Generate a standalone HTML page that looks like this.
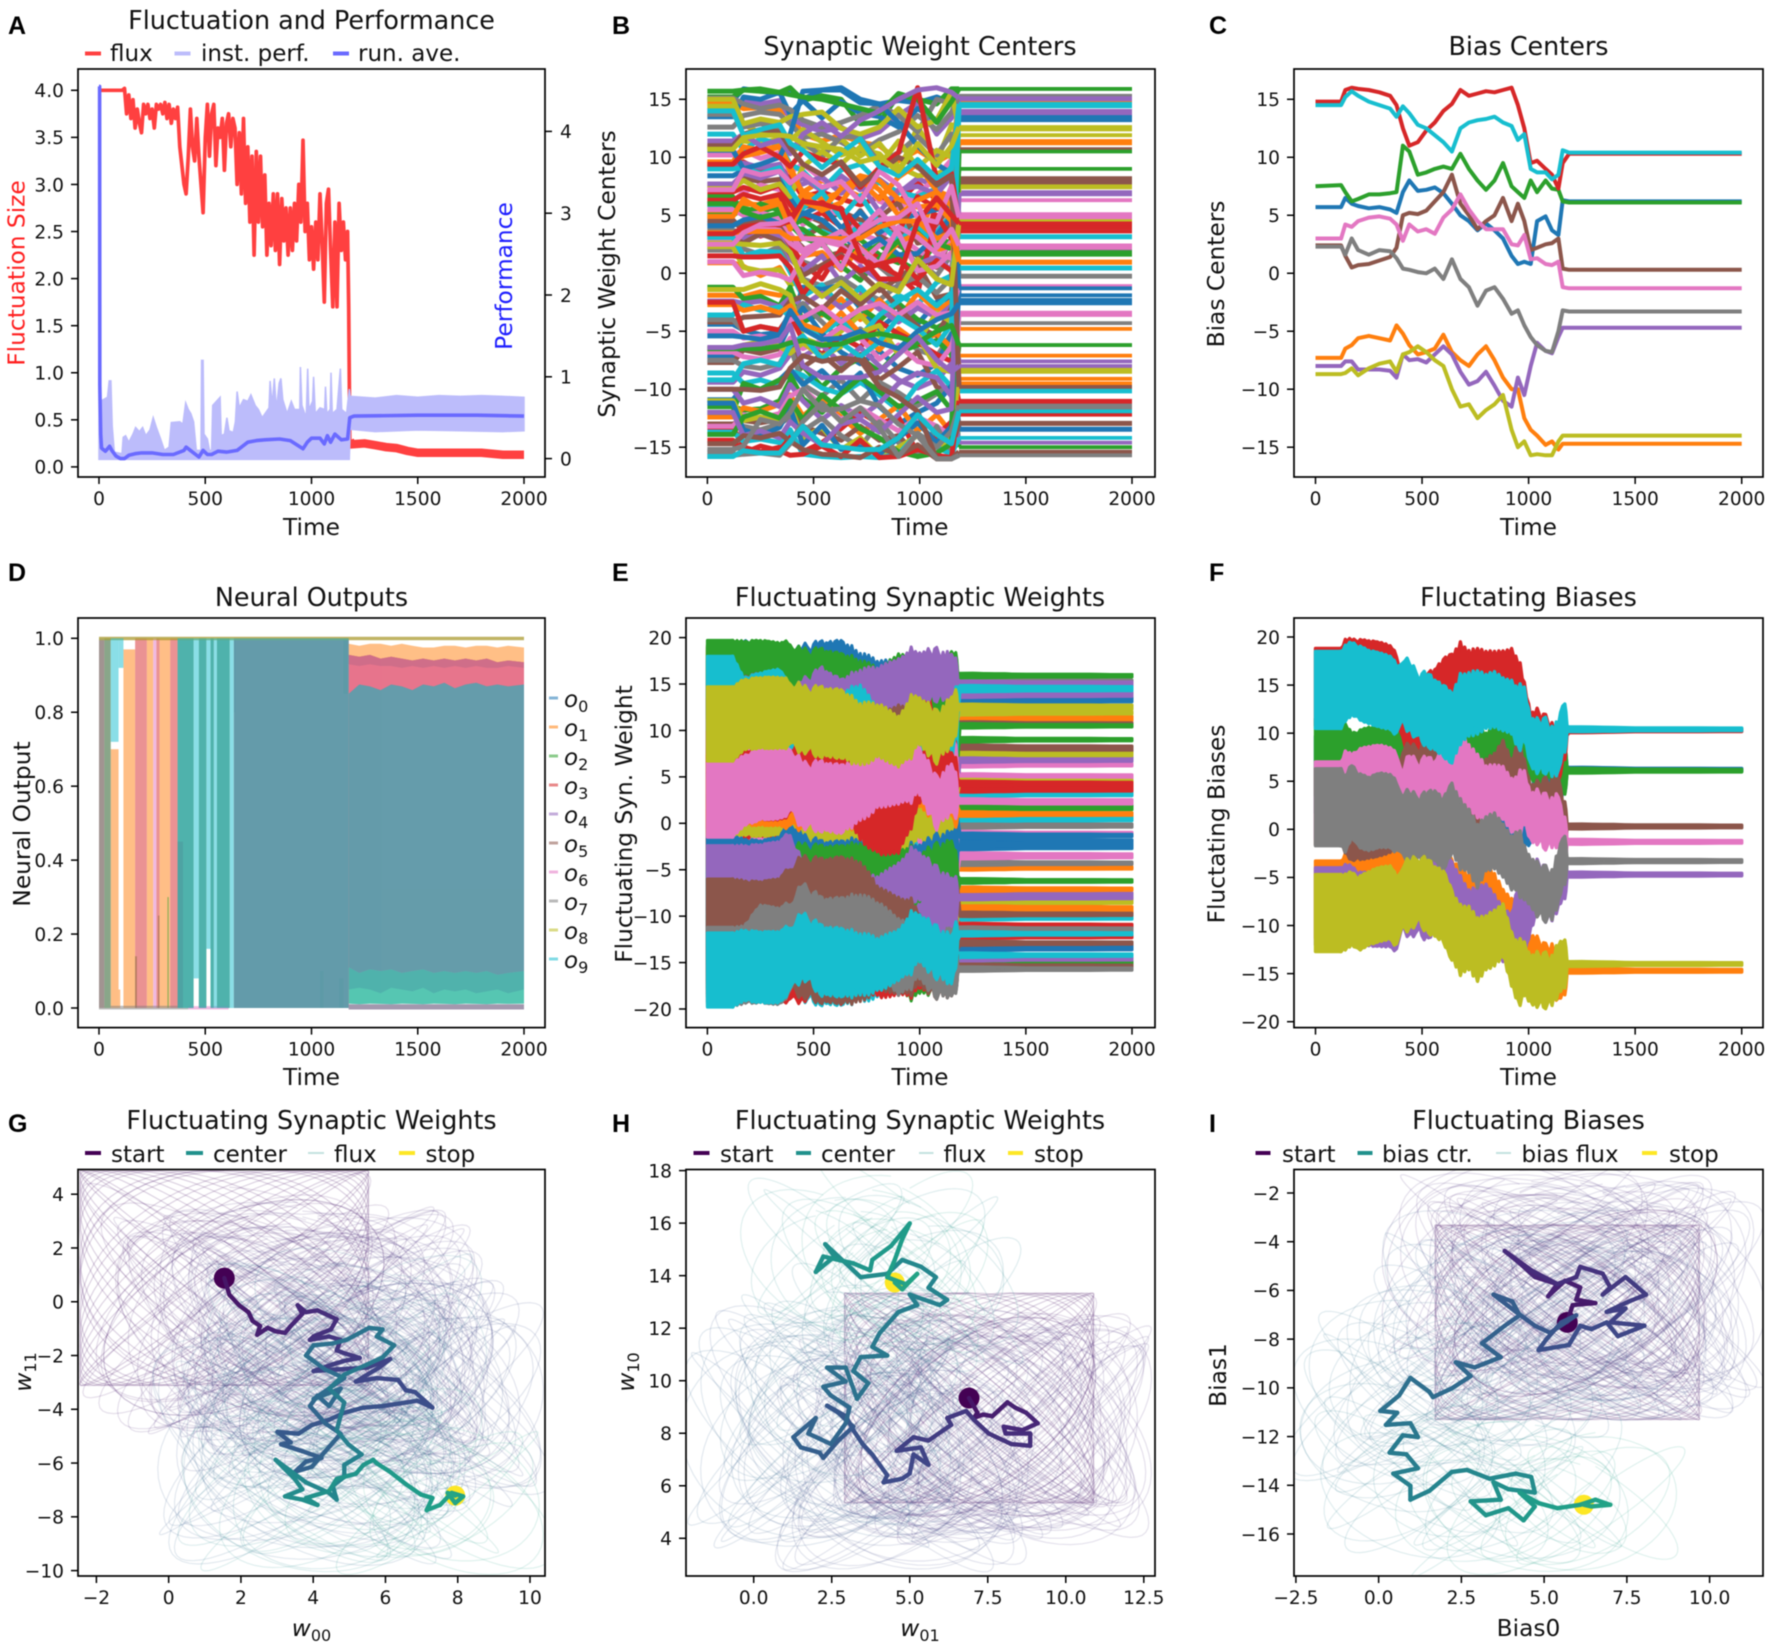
<!DOCTYPE html>
<html lang="en">
<head>
<meta charset="utf-8">
<title>Fluctuation and performance panels</title>
<style>
html,body{margin:0;padding:0;background:#fff}
svg{display:block;filter:blur(.45px)}
text{font-family:"DejaVu Sans","Liberation Sans",sans-serif;fill:#111}
.t{font-size:25.4px;text-anchor:middle}
.l{font-size:23px}
.m{font-size:23.3px;text-anchor:middle}
.p{font-family:"Liberation Sans",sans-serif;font-weight:700;font-size:25px;fill:#000}
.i{font-style:italic}
.s{font-size:16px}
</style>
</head>
<body>
<svg id="fig" xmlns="http://www.w3.org/2000/svg" width="1772" height="1645" viewBox="0 0 1772 1645">
<rect width="1772" height="1645" fill="#fff"/>
<g id="marks"></g>

<text class="p" x="8" y="34">A</text>
<text class="p" x="612" y="34">B</text>
<text class="p" x="1209" y="34">C</text>
<text class="p" x="8" y="581">D</text>
<text class="p" x="612" y="581">E</text>
<text class="p" x="1209" y="581">F</text>
<text class="p" x="8" y="1132">G</text>
<text class="p" x="612" y="1132">H</text>
<text class="p" x="1209" y="1132">I</text>

<text class="t" x="311.5" y="29">Fluctuation and Performance</text>
<text class="t" x="920" y="55">Synaptic Weight Centers</text>
<text class="t" x="1528.5" y="55">Bias Centers</text>
<text class="t" x="311.5" y="606">Neural Outputs</text>
<text class="t" x="920" y="606">Fluctuating Synaptic Weights</text>
<text class="t" x="1528.5" y="606">Fluctating Biases</text>
<text class="t" x="311.5" y="1129">Fluctuating Synaptic Weights</text>
<text class="t" x="920" y="1129">Fluctuating Synaptic Weights</text>
<text class="t" x="1528.5" y="1129">Fluctuating Biases</text>

<text class="m" x="311.5" y="535">Time</text>
<text class="m" x="920" y="535">Time</text>
<text class="m" x="1528.5" y="535">Time</text>
<text class="m" x="311.5" y="1085">Time</text>
<text class="m" x="920" y="1085">Time</text>
<text class="m" x="1528.5" y="1085">Time</text>
<text class="m" x="311.5" y="1636"><tspan class="i">w</tspan><tspan class="s" dy="5">00</tspan></text>
<text class="m" x="920" y="1636"><tspan class="i">w</tspan><tspan class="s" dy="5">01</tspan></text>
<text class="m" x="1528.5" y="1636">Bias0</text>

<text class="m" transform="translate(24.5,273) rotate(-90)" style="fill:#ff2020">Fluctuation Size</text>
<text class="m" transform="translate(512,276) rotate(-90)" style="fill:#2020ff">Performance</text>
<text class="m" transform="translate(615,274) rotate(-90)">Synaptic Weight Centers</text>
<text class="m" transform="translate(1224,274) rotate(-90)">Bias Centers</text>
<text class="m" transform="translate(30,824) rotate(-90)">Neural Output</text>
<text class="m" transform="translate(632,824) rotate(-90)">Fluctuating Syn. Weight</text>
<text class="m" transform="translate(1224.5,824) rotate(-90)">Fluctating Biases</text>
<text class="m" transform="translate(31,1372) rotate(-90)"><tspan class="i">w</tspan><tspan class="s" dy="5">11</tspan></text>
<text class="m" transform="translate(634,1372) rotate(-90)"><tspan class="i">w</tspan><tspan class="s" dy="5">10</tspan></text>
<text class="m" transform="translate(1226,1375) rotate(-90)">Bias1</text>

<g>
<rect x="85" y="51.5" width="16" height="4" fill="#ff4040"/>
<text class="l" x="110" y="61">flux</text>
<rect x="174.5" y="51.5" width="16" height="4" fill="#bcbcfb"/>
<text class="l" x="201" y="61">inst. perf.</text>
<rect x="333" y="51.5" width="16" height="4" fill="#6a6aff"/>
<text class="l" x="358" y="61">run. ave.</text>
</g>

<g>
<rect x="549" y="696.5" width="9" height="3" fill="#1f77b4" opacity=".55"/>
<text class="l" x="564" y="707"><tspan class="i">o</tspan><tspan class="s" dy="5">0</tspan></text>
<rect x="549" y="725.5" width="9" height="3" fill="#ff7f0e" opacity=".55"/>
<text class="l" x="564" y="736"><tspan class="i">o</tspan><tspan class="s" dy="5">1</tspan></text>
<rect x="549" y="754.5" width="9" height="3" fill="#2ca02c" opacity=".55"/>
<text class="l" x="564" y="765"><tspan class="i">o</tspan><tspan class="s" dy="5">2</tspan></text>
<rect x="549" y="783.5" width="9" height="3" fill="#d62728" opacity=".55"/>
<text class="l" x="564" y="794"><tspan class="i">o</tspan><tspan class="s" dy="5">3</tspan></text>
<rect x="549" y="812.5" width="9" height="3" fill="#9467bd" opacity=".55"/>
<text class="l" x="564" y="823"><tspan class="i">o</tspan><tspan class="s" dy="5">4</tspan></text>
<rect x="549" y="841.5" width="9" height="3" fill="#8c564b" opacity=".55"/>
<text class="l" x="564" y="852"><tspan class="i">o</tspan><tspan class="s" dy="5">5</tspan></text>
<rect x="549" y="870.5" width="9" height="3" fill="#e377c2" opacity=".55"/>
<text class="l" x="564" y="881"><tspan class="i">o</tspan><tspan class="s" dy="5">6</tspan></text>
<rect x="549" y="899.5" width="9" height="3" fill="#7f7f7f" opacity=".55"/>
<text class="l" x="564" y="910"><tspan class="i">o</tspan><tspan class="s" dy="5">7</tspan></text>
<rect x="549" y="928.5" width="9" height="3" fill="#bcbd22" opacity=".55"/>
<text class="l" x="564" y="939"><tspan class="i">o</tspan><tspan class="s" dy="5">8</tspan></text>
<rect x="549" y="957.5" width="9" height="3" fill="#17becf" opacity=".55"/>
<text class="l" x="564" y="968"><tspan class="i">o</tspan><tspan class="s" dy="5">9</tspan></text>
</g>

<g>
<rect x="85" y="1151" width="16" height="4" fill="#440154"/>
<text class="l" x="111" y="1162">start</text>
<rect x="186" y="1151" width="17" height="4" fill="#21918c"/>
<text class="l" x="213" y="1162">center</text>
<rect x="308" y="1152" width="16" height="2" fill="#c4e2df"/>
<text class="l" x="334" y="1162">flux</text>
<rect x="399" y="1151" width="16" height="4" fill="#fde725"/>
<text class="l" x="425.5" y="1162">stop</text>
</g>
<g>
<rect x="693.5" y="1151" width="16" height="4" fill="#440154"/>
<text class="l" x="720" y="1162">start</text>
<rect x="796" y="1151" width="15" height="4" fill="#21918c"/>
<text class="l" x="821" y="1162">center</text>
<rect x="919" y="1152" width="14.5" height="2" fill="#c4e2df"/>
<text class="l" x="943.5" y="1162">flux</text>
<rect x="1008" y="1151" width="15" height="4" fill="#fde725"/>
<text class="l" x="1034" y="1162">stop</text>
</g>
<g>
<rect x="1255.5" y="1151" width="15" height="4" fill="#440154"/>
<text class="l" x="1282" y="1162">start</text>
<rect x="1357.5" y="1151" width="15" height="4" fill="#21918c"/>
<text class="l" x="1382" y="1162">bias ctr.</text>
<rect x="1496" y="1152" width="15" height="2" fill="#c4e2df"/>
<text class="l" x="1521.5" y="1162">bias flux</text>
<rect x="1642" y="1151" width="15" height="4" fill="#fde725"/>
<text class="l" x="1669" y="1162">stop</text>
</g>
</svg>

<script>
/* ---------- data: panel A ---------- */
const fluxEvery10 = [
4,4,4,4,4,4,4,4,4,4,
4,4,4.02,3.75,3.95,3.7,3.9,3.6,3.8,3.65,
3.55,3.85,3.75,3.85,3.7,3.8,3.6,3.85,3.8,3.85,
3.75,3.87,3.7,3.85,3.65,3.8,3.7,3.82,3.4,3.2,
3.0,2.9,3.3,3.8,3.4,3.25,3.7,3.3,3.0,2.7,
3.5,3.85,3.3,3.75,3.85,3.2,3.6,3.5,3.7,3.15,
3.65,3.75,3.4,3.7,3.6,3.0,3.55,2.9,3.7,2.8,
3.4,2.6,3.3,2.25,3.35,2.6,3.3,2.55,3.1,2.25,
2.8,2.35,2.9,2.3,2.9,2.15,2.85,2.4,2.75,2.25,
2.75,2.3,2.8,2.4,3,2.6,3.47,2.5,2.8,2.2,
2.55,2.1,2.6,2.2,2.9,2.4,1.75,2.8,2.95,2.3,
1.7,2.6,1.7,2.8,2.3,2.6,2.2,2.5];
const fluxTailTimes = [1175,1180,1190,1250,1300,1350,1400,1450,1500,1600,1700,1800,1900,2000];
const fluxTail = [1.7,.28,.24,.25,.23,.21,.2,.17,.15,.15,.15,.15,.13,.13];

const perfTimes = [0,4,20,40,48,56,62,72,108,114,125,140,160,172,190,205,220,240,255,270,290,308,330,340,380,395,408,420,432,445,458,480,483,490,494,510,520,530,535,570,575,590,602,612,632,642,650,660,680,700,715,735,750,768,800,805,815,825,835,848,856,865,885,905,920,945,948,955,975,982,988,1005,1010,1018,1040,1062,1066,1072,1088,1092,1098,1120,1136,1142,1165,1178,1182,1300,1400,1500,1600,1700,1800,1900,2000];
const perfHigh = [.9,.7,.72,.75,.95,.95,.4,.08,.06,.26,.28,.2,.3,.38,.33,.38,.28,.35,.5,.38,.24,.1,.14,.44,.45,.42,.68,.6,.55,.45,.1,.1,1.2,1.2,.3,.24,.1,.1,.65,.75,.28,.3,.5,.34,.32,.45,.82,.62,.72,.7,.78,.65,.6,.5,.62,.95,.65,.98,.6,.92,.98,.72,.55,.7,.6,.6,1.12,.65,.5,1.1,.6,.7,1,.55,.62,.6,.88,.55,.6,1.05,.55,.6,1.1,.6,.55,.85,.76,.74,.77,.75,.77,.76,.77,.76,.75];
const perfLowTimes = [0,1178,1182,1300,1500,1700,1900,2000];
const perfLow = [-.01,-.01,.36,.33,.35,.34,.33,.34];

const runAveTimes = [0,3,4,8,12,20,30,40,50,60,80,100,120,140,170,200,250,300,350,400,410,430,470,490,510,530,560,600,650,700,740,780,850,900,960,980,1000,1040,1060,1075,1090,1110,1140,1170,1180,1200,1500,1780,2000];
const runAve = [4.55,4.55,.9,.3,.13,.11,.09,.12,.15,.1,.03,0,0,.04,.06,.07,.07,.05,.05,.1,.14,.1,.02,.1,.05,.05,.09,.08,.1,.2,.22,.23,.24,.22,.12,.2,.25,.25,.18,.28,.2,.3,.23,.24,.5,.52,.53,.53,.52];

/* ---------- data: panels B / C ---------- */
const centerTimes = [0,120,170,250,340,390,450,540,630,720,810,900,990,1080,1150,1185];
const weightCenters = [
[14.9,14.9,15.9,15.7,15.5,15.9,15,15.8,16,15,14.6,14.9,14.7,15.2,14.7,13.7],
[14.6,14.6,14.2,14.3,14.1,13.6,12,11.4,11.9,11.3,11,9.7,10.6,9.6,10.3,14.7],
[15.2,15.2,15.8,15.9,15.6,16,14.9,15.3,15,12.9,13,15.4,15,14.6,15.9,15.9],
[9.2,9.2,9.6,8.8,9.2,8.2,6.6,7,6.4,5.9,6.6,6.1,7.8,6.3,5.8,4.3],
[14.1,14.1,14.9,14.6,14.9,13.4,12.8,12.2,12.6,11.6,12.2,13.6,14.7,12,13.4,15],
[7.6,7.6,8.2,7.9,8.1,6.2,5.1,4.4,5.3,4.6,4,3.2,4.6,4.1,6,8.2],
[6.2,6.2,7,7.6,7.2,6.1,4.2,5.4,5.1,3.4,2.8,5,4.2,3.6,5.2,6.3],
[12.6,12.6,13.6,13.9,13.7,12.9,11.7,12,11.3,10.4,11.5,12.2,13.6,12.4,13.9,15.3],
[14.4,14.4,12.8,12.1,12.4,11.5,12.4,11.3,10.2,10.7,10.3,8.6,12.7,9.6,12.8,12.6],
[5.9,5.9,6.1,5.8,6.3,4.5,3.5,3.9,2.7,4.2,3.6,4.6,2.7,3.5,5.1,3.2],

[13.5,13.5,15.2,15,15.6,13.7,14.9,13.4,14.8,13.8,13.5,12.6,14.2,13.2,15.5,13.2],
[5.3,5.3,6,5.9,6.4,5.1,7,8,7.4,6.6,7.9,6.2,3,7,6.2,11.4],
[5,5,5.6,5.3,5.8,4.2,3.1,2.4,3.5,2.9,1.6,0.9,3.8,2.5,4.6,10.6],
[7,7,7.4,7,7.6,5.9,4.6,5.2,4,2.2,1.3,-0.5,-0.9,6.4,4.8,4.1],
[9.1,9.1,9.5,9.1,9.4,7.7,8.2,7.1,8.4,7.2,8.1,6.9,8.2,7.4,8.6,14],
[4.6,4.6,3.6,3.7,3.5,2.8,3,4.1,3.4,5.4,3.2,2.4,1.5,0.5,3,7.8],
[10.2,10.2,10.6,9.9,10.4,8.7,9.4,8.1,7.2,8.3,6.2,5.6,6.8,8.3,9.8,5.1],
[3.7,3.7,3.4,3.6,3.7,2,1,0.4,0.8,1.9,0.6,-0.8,1,-0.2,1.6,2],
[10.9,10.9,11.4,11.2,11.6,10.5,11,10.4,11.6,10.1,11.2,9.2,8.4,8.6,9,7.5],
[12,12,10.6,11.6,11.1,9.4,8.8,7.2,8.9,9.4,7.8,7,6.6,7.3,9.2,3.1],

[8.4,8.4,8.9,8.5,8.9,6.6,5.1,5.9,3.9,5.3,3.5,4.6,5.1,5.5,5.8,13.5],
[9.5,9.5,10.1,10.4,10.9,8.8,7,6.4,7,7.9,6.4,8.3,9.4,7.1,6.6,11.2],
[6.6,6.6,5,6,5.4,4.1,4.6,3.5,2.6,1.5,2.5,1.1,0.2,3,2.6,9],
[6.3,6.3,6.8,6.4,6.8,4.9,5.7,6.1,5.6,3.8,4.8,3.6,6.6,5.6,6.9,3.6],
[7.7,7.7,8.6,8.2,8.8,7.4,7.7,8.3,6.9,7.7,5.3,7.2,7.5,6.8,8.4,13.8],
[4.3,4.3,4.3,4.5,4.1,3.3,2.2,1.4,1.8,3.1,4.8,6.1,2.6,2.9,4.4,8],
[5.5,5.5,5,5.2,4.8,3.4,2,2.8,2.4,0.9,2.4,3.2,2,1,2.8,2.4],
[13.7,13.7,12.6,12.9,12.6,10.6,11.4,10,11.8,11.7,9.5,10.4,11.8,10.2,12,-0.2],
[7.3,7.3,8,7.2,7.7,6.6,9.2,10.5,9.4,10.9,9.3,11.4,9.1,10.6,10,11.9],
[9,9,9.1,8.6,9.1,7.2,5.6,7,4.8,6.7,4.3,2.8,4.1,2.5,3.8,0.4],

[4.1,4.1,4.6,4.9,4.3,4.3,5.2,4.6,3.2,2.1,3,1.6,1.7,3.3,4.9,-1.9],
[0.9,0.9,0.6,-0.2,0.5,-1,1.5,1.8,0.3,2.2,0.8,2.7,3.4,2,2.4,0.9],
[6,6,5.3,4.8,5.2,3.9,3.8,2.6,0.6,-0.6,1.3,2.8,0.6,2.6,2.1,1.8],
[3.4,3.4,3.7,3.2,3.7,2.5,0.8,-0.5,2.1,1.1,0.7,-0.2,-1.7,5,3,3.9],
[2.2,2.2,3,3.3,3.2,1.2,0.2,1.5,-0.8,0.6,-0.6,-1.5,0.8,1.4,0.2,7],
[3.1,3.1,2.6,3.4,2.8,1.7,-0.2,0.7,1.6,0,-1.5,-0.4,0.8,-2.1,-1.8,10.7],
[2.9,2.9,3.8,4,3.7,2.6,1.8,2.8,3.6,2.1,0.8,4,3.1,1.7,1.3,2.2],
[2,2,2.1,1.6,2.3,0.2,-0.5,-1.1,-0.4,-1.5,-2.3,-1,-0.3,-1.7,-0.4,-0.3],
[2.3,2.3,0.5,0.2,0.3,-1,-0.6,-2,-0.8,-2.2,-0.9,-1.6,1.2,-0.5,-1,7.4],
[3.1,3.1,1.5,1.9,1.8,0.1,-2,-1,-2.9,-1.2,-3,-1.9,-2.7,-0.8,-0.2,0.5],

[-4.4,-4.4,-4.9,-5.3,-5.1,-4.5,-1.2,-1.4,-1,-3,-4.8,-3.4,-4.4,-2.5,-2.1,-2.3],
[-1.9,-1.9,-2,-1.6,-1.9,-1.5,-3.2,-3.6,-2.2,-4,-2.3,-3.9,-1.7,-3.2,-2.4,-4.8],
[-1.2,-1.2,-2.2,-2,-2.8,-1.2,-4.2,-3.4,-4.6,-3,-4.1,-2.6,-4,-4.7,-4,1.6],
[1.5,1.5,1.4,1.4,1.5,0.5,-1.8,0.4,1.4,0.2,0.8,1.2,-0.5,1.1,0.2,-8.3],
[-2.4,-2.4,-2.6,-2.4,-2.9,-2.1,-2.8,-1.7,-3,-1.9,-3.1,-4.2,-3,-3.8,-2.8,-7.6],
[-4.2,-4.2,-3.8,-3.7,-3.6,-2.4,-2,-3.1,-1.5,-2.7,-1.2,-3,-4.6,-5.4,-3,-9.9],
[1,1,-0.2,0.1,-0.2,-0.6,1.4,2.6,0.4,3.8,5.4,3.5,0.2,0.6,1.8,-1.2],
[-4,-4,-5,-4.6,-4.9,-3.5,-2.6,-4.2,-5.8,-4.8,-6,-5.2,-6.6,-7.2,-5.2,-4.3],
[-1.4,-1.4,-1.4,-0.9,-1.4,-1.9,-5.6,-6.2,-5,-3.6,-5.4,-6.8,-5.9,-3.4,-4.2,4.7],
[-3.6,-3.6,-2.7,-3.2,-2.9,-3.8,-4.8,-5.2,-4,-5.4,-3.6,-2.4,-1.4,-2.8,-1.7,-10.2],

[-7.2,-7.2,-6.4,-6.8,-6.3,-4.4,-3,-5.2,-6.8,-7.8,-6.7,-8.2,-8.8,-7.8,-5.2,-13.5],
[-2.7,-2.7,-3.2,-2.9,-3.4,-2.8,-4.4,-5,-3.4,-5.2,-6.6,-4.8,-6,-5.2,-6.4,-7.1],
[-11.5,-11.5,-11.8,-11.7,-11,-9.2,-8,-9.8,-8.2,-7.3,-8.5,-6.8,-6.2,-5.8,-7,-15],
[-2.5,-2.5,-5,-4.6,-4.9,-3.6,-5.8,-7,-5.5,-6.4,-4.2,-5.2,-6,-7,-7.6,-11.2],
[-9.4,-9.4,-8.5,-8.8,-8.2,-7,-7.2,-6.2,-7.8,-6.4,-8,-9.2,-9.9,-9.2,-7.8,-9.6],
[-7.7,-7.7,-6.6,-6.9,-6.5,-6,-8.1,-7,-8.4,-7,-9.2,-8.1,-6.8,-9.8,-10.4,-13],
[-6.8,-6.8,-7.2,-7.4,-7,-5.6,-6.5,-5.8,-4.6,-5.6,-7.4,-6.2,-7.6,-8,-6.3,-3.6],
[-7.5,-7.5,-8,-8.2,-7.8,-6.3,-9.6,-10.6,-9.2,-11,-9.4,-10.3,-11.4,-10.4,-9.6,-11.6],
[-6.5,-6.5,-6.2,-5.9,-6.3,-6.9,-6,-7.2,-6.3,-5.1,-4.5,-7,-5.4,-8.2,-8.5,-8.5],
[-8.6,-8.6,-9.5,-9.2,-9.7,-8.4,-8.8,-9.9,-10.4,-9.4,-10.5,-11.8,-9.6,-8.4,-9.8,-10.1],

[-10.9,-10.9,-9.8,-10,-9.2,-8.3,-9.6,-8.4,-10,-8.6,-11.5,-13,-12,-11.2,-9.7,-13.4],
[-12.4,-12.4,-11.6,-11.9,-11.3,-10.5,-12.3,-11,-12.4,-13.8,-12.6,-11.4,-13.6,-12.2,-13.8,-9.1],
[-12,-12,-9.5,-10,-9.2,-8.8,-10.8,-12,-10.4,-9,-10.2,-11.5,-11,-10.2,-11.8,-6.2],
[-13.3,-13.3,-15,-15.4,-15,-13.8,-15.4,-14.6,-13.4,-12,-13,-12.4,-15.5,-14,-12.8,-12.2],
[-10,-10,-11.2,-10.8,-11.5,-9.6,-11,-12.6,-11.4,-12.4,-11.2,-9.5,-8.6,-9,-10.6,-14.6],
[-13,-13,-12.7,-12.9,-12.6,-11.8,-13.2,-13.8,-14.4,-13.2,-14.4,-14,-15.8,-14.6,-15.2,-12.9],
[-13.2,-13.2,-12.2,-12.5,-12.1,-10.6,-10,-11.4,-12.6,-11.6,-12.6,-13.6,-12.4,-13.2,-14,-3.4],
[-15.4,-15.4,-13.2,-13.5,-13,-12.4,-13.6,-12.5,-14,-15,-12.8,-14.6,-15.8,-13.2,-15.7,-15.6],
[-11,-11,-12.7,-12.4,-12.9,-11.4,-14.2,-13.3,-15.2,-14.2,-15.8,-15,-14,-15.6,-14,-8.3],
[-13.7,-13.7,-14.5,-14.3,-14.6,-13.5,-15.6,-15.8,-15.9,-15.8,-15.9,-15.6,-13.8,-15,-15.6,-14.2],

[-11.2,-11.2,-13.5,-14,-13.3,-11.6,-14.8,-13.1,-15.2,-15,-15.6,-14.2,-12.9,-14.6,-13.2,-1.2],
[9.6,9.6,10.9,10.6,11,9.2,6.8,5.4,6.1,8.4,7.2,5,6.3,7,5.8,-9.5],
[-13.9,-13.9,-12.4,-11.9,-12.5,-11,-12.6,-10.5,-11.8,-13.4,-14.2,-15.4,-15.8,-15.5,-14.7,10.5],
[-14.4,-14.4,-15.5,-14.9,-15.3,-15.7,-15.6,-14.9,-15.8,-14.4,-15.9,-15.8,-15.2,-15.7,-15.9,-11],
[-12,-12,-14,-13.6,-14.2,-12.8,-13.8,-14.8,-13,-12.6,-13.7,-12.2,-10.7,-12,-11.7,6.8],
[-14.7,-14.7,-14,-14.2,-13.8,-14.5,-15.2,-15.6,-15.7,-15.9,-15,-15.7,-14.8,-16,-16,-15.4],
[-5,-5,-5.6,-5.4,-5.8,-4,-3.8,-2.9,-4.2,-3.1,-2.6,-3.6,-2.5,-3.6,-3.4,-1.1],
[15.1,15.1,14.6,14.2,14.5,14.1,13.2,12.6,13,13.6,14.5,13.6,12.2,15,14.6,15.2],
[15,15,12.9,13.3,13,13.5,13.7,13.9,12.5,12,12.6,14.2,12.6,13.2,15.6,12.4],
[-9.2,-9.2,-7.8,-7.5,-7.9,-6.2,-5.4,-7.4,-6,-7.2,-5.9,-3.8,-4.8,-6.2,-4.4,14.4],

[10.6,10.6,9,9.4,10,12,15.7,15.8,15.8,14.7,14.6,13,11,9.4,8.6,-1.3],
[4.9,4.9,6.4,5.5,6,3.8,6.2,5.5,7.3,8.4,8,6.4,5.7,5.9,4.5,1],
[15.7,15.7,15.8,15.7,15.6,15.4,15.2,15,14.6,14.2,13.8,15.5,15,13,14.8,15.9],
[9.4,9.4,10.3,10.9,10,9.2,10.5,9.8,9.4,7.4,9.1,10.4,16,8,8.6,4.2],
[11.4,11.4,12,11,11.5,10.3,12,13,11.8,13.2,14,15,15.8,16,15.6,15.1],
[11,11,12,12.4,12.2,10.8,9.4,8.5,9.6,7.6,8.8,10,9.2,7.6,8.4,-9.8],
[7.2,7.2,8.9,8.5,8.8,7.8,8.6,7.4,7.9,6.2,8.8,7.6,4.8,4.4,7.5,4.8],
[-15.7,-15.7,-15.6,-15.5,-15.7,-14.7,-12.8,-11.2,-12.8,-11.6,-13.3,-15.8,-13.8,-15,-13.6,-11.4],
[2.6,2.6,2.5,2.4,2.6,1.8,-0.6,-2,-0.8,-2.2,-0.9,-1.6,1.2,-0.5,-1,4.5],
[14,14,11.9,12.4,12.8,11.2,10.6,9.1,10.4,11.6,9.2,8.4,9.8,8.2,9,14.6],

[-5.4,-5.4,-5.5,-5.7,-5.3,-3.2,-4.8,-5.7,-5.6,-5,-6,-6.5,-5,-4,-3.5,-2.6],
[3.5,3.5,3.6,3.6,3.6,3,3,3,3,3,4,4.5,4.5,3,3.5,1],
[-6.5,-6.5,-6.5,-6.5,-6.3,-6,-5.8,-6.2,-6.1,-5.5,-5.2,-5.5,-6,-5,-4.5,-6.2],
[3.4,3.4,4,4.2,4.2,4.5,6.2,6,5.5,1.5,-0.5,-0.5,4.5,6.5,5,4.3],
[-6.4,-6.4,-6.2,-6.1,-5.8,-4.5,-8,-9,-9,-9,-8.5,-7,-5.5,-7.5,-8.5,-8],
[-10,-10,-10,-10.1,-9.8,-8.2,-7.1,-7.6,-7.3,-7.5,-9.8,-10.7,-11.9,-16,-16,-15.4],
[2.5,2.5,3.5,4.2,4.3,4.7,3,2.9,2.6,3.6,4.6,4.8,6,2.2,3.8,2.4],
[-15.2,-15.2,-14.9,-12.6,-13,-12,-10,-11.8,-11.7,-11,-11.4,-13,-14,-16,-16,-15.7],
[10.7,10.7,11.7,11.9,11.9,11.8,11.2,10.9,10.7,9.6,10,8.8,11.2,9.3,11,12.6],
[-15.8,-15.8,-15.3,-15.5,-15.5,-14.5,-13.2,-14.8,-15,-15.2,-15.2,-14.2,-12.2,-13.9,-14.7,-11.9]
];

const biasTimes = [0,120,140,170,200,250,300,350,380,410,440,480,520,560,600,640,680,720,760,800,840,880,920,950,980,1010,1040,1080,1110,1140,1160,1190,2000];
const biasBlue = [5.7,5.7,6.5,6,5.8,5.6,5.7,5.5,5.2,7,8,7.1,7.2,7.4,6.9,6,5,4.5,3.7,4.3,3.7,3,1.5,.8,1,.8,4.5,4.9,3.7,3.3,6.3,6.2,6.2];
const biasOrange = [-7.3,-7.3,-6.5,-6.2,-5.6,-5.4,-5.6,-5.8,-4.5,-5.2,-6.2,-7,-6.8,-6.5,-5.3,-6.8,-7.5,-8,-7,-6.3,-7.5,-9,-10,-10,-12.5,-13.5,-14,-14.8,-14.5,-15.2,-14.7,-14.7,-14.7];
const biasGreen = [7.5,7.6,7,6.2,6.4,6.8,6.8,6.9,7,11,10.5,8.5,8.7,9,9.2,9,10.3,9,8,7.2,8,9.5,7.5,7,6.5,8,7,8,7.3,7.2,6.2,6.1,6.1];
const biasRed = [14.8,14.8,15.8,16,15.9,15.8,15.6,15.3,14.5,12.5,11,11.3,12.3,13,14,14.6,15.8,15.3,15.5,15.7,15.6,15.8,16,14.5,12.5,9.5,9.7,9,8.5,7.3,9.5,10.3,10.3];
const biasPurple = [-8,-8,-7.6,-7.6,-8.3,-8.3,-8.3,-8.4,-9,-7,-7.5,-7.4,-7.7,-7,-6.3,-7,-8.5,-9.6,-9.3,-8.5,-9.7,-11,-11.5,-9,-10.5,-8,-6,-6.7,-6.9,-5.5,-4.7,-4.7,-4.7];
const biasBrown = [2.4,2.4,1.5,0.5,.7,.8,1.1,1.4,2.2,5,5.2,5.1,5.4,6.2,7,8.5,6,5,3.8,4.5,5,6.5,4.5,6,4.5,2,2.2,2.5,2.6,3,.4,.3,.3];
const biasPink = [3,3,4.2,4,4.5,4.8,4.9,4.7,4.2,2.8,4.2,3.6,3.8,3.4,4.8,5.5,6.8,5.5,4.5,3.8,3.8,3.8,2.5,2.4,3.3,1.2,1.3,.8,.7,1,-1.2,-1.3,-1.3];
const biasGray = [2.3,2.3,1.6,3,2,1.6,2,1.9,1.3,.4,.3,.1,0,.4,-.5,1.2,-.5,-1.2,-2.8,-1.5,-1.2,-2.2,-3.5,-3.2,-4.5,-5.5,-6.2,-6.7,-6.8,-5,-3.2,-3.3,-3.3];
const biasOlive = [-8.7,-8.7,-8.6,-8.2,-8.8,-8.2,-7.8,-7.6,-8.5,-7,-6.8,-6.3,-6.8,-7.5,-8,-10,-11.5,-11.3,-12.5,-11.8,-11.3,-10.5,-13.5,-15,-14.5,-15.7,-15.6,-15.7,-15.7,-14.5,-14,-14,-14];
const biasCyan = [14.5,14.5,15.2,15.7,15.3,14.8,14.5,14.2,13.5,14.4,13.8,12.8,12.5,11.9,11.3,10.5,12.5,13,13.2,13.3,13.5,13,12.7,11.5,12,9,8.7,8.7,8.1,8.5,10.6,10.4,10.4];
const biasCenters = [biasBlue,biasOrange,biasGreen,biasRed,biasPurple,biasBrown,biasPink,biasGray,biasOlive,biasCyan];

/* ---------- data: panel D: [output, start, end, low, high] ---------- */
const earlyTraces = [
[5,0,25,0,1],[7,0,25,0,1],[2,25,55,0,1],[7,25,55,0,1],
[9,55,92,.72,1],[1,55,92,0,.7],[9,92,115,.92,1],[1,92,100,0,.05],
[1,115,170,0,.97],[3,170,225,0,1],[1,225,255,0,1],[6,255,270,0,1],[3,270,285,0,1],[1,285,335,0,1],[3,335,370,0,1],
[2,170,178,0,.14],[2,278,284,0,.25],[2,322,328,0,.3],
[2,370,445,0,1],[7,370,445,0,1],[9,370,445,0,1],[5,370,395,0,.45],[9,445,470,.08,1],
[2,470,505,0,1],[7,470,505,0,1],[9,470,505,0,1],[9,505,525,.16,1],[2,525,540,0,1],[7,525,540,0,1],[9,525,540,0,1],[9,540,555,0,1],
[2,555,615,0,1],[7,555,615,0,1],[9,555,615,0,1],[9,615,635,0,1],[5,635,642,.8,1],
[1,635,1175,0,1],[3,635,1175,0,1],[6,635,1175,0,1],[7,635,1175,0,1],[9,635,1175,0,1],
[2,1040,1056,0,.1],[2,1130,1150,0,.08],[2,1150,1170,.85,1],
[5,0,2000,.995,1.004],[8,0,2000,.995,1.004],[7,0,420,-.004,.006],[6,420,610,-.004,.005],[7,1175,2000,-.004,.01],[4,1175,2000,-.004,.01]
];
const lateTimes = [1175,1225,1275,1325,1375,1425,1475,1525,1575,1625,1675,1725,1775,1825,1875,1925,2000];
const lateOrangeHigh = [.985,.98,.985,.985,.98,.985,.98,.975,.975,.98,.98,.975,.98,.98,.975,.98,.975];
const lateRoseHigh = [.955,.95,.955,.945,.95,.945,.94,.945,.94,.945,.94,.945,.94,.945,.935,.94,.935];
const lateBrownLow = [.93,.925,.93,.925,.925,.92,.925,.92,.925,.92,.925,.92,.925,.92,.92,.925,.92];
const lateCyanHigh = [.85,.875,.87,.86,.875,.87,.86,.875,.87,.88,.865,.875,.88,.87,.875,.87,.875];
const lateGreenHigh = [.11,.095,.105,.1,.105,.095,.1,.105,.095,.1,.095,.1,.095,.1,.09,.095,.1];
const lateTealHigh = [.05,.055,.05,.04,.055,.05,.045,.055,.04,.05,.045,.05,.04,.045,.05,.04,.05];
const lateFloor = [.012,.01,.012,.011,.01,.012,.011,.01,.012,.011,.01,.012,.011,.01,.012,.011,.012];

/* ---------- data: panels G / H / I centre trajectories ---------- */
const gX = [1.54,1.68,1.95,2.21,2.32,2.53,2.45,2.74,2.96,3.22,3.38,3.7,3.57,3.8,4.12,4.65,4.49,4.01,3.91,4.44,4.76,4.65,4.92,5.29,4.86,4.54,4.01,4.65,5.5,6.13,5.82,5.18,5.76,6.35,6.56,6.82,7.3,6.88,6.56,5.92,5.39,4.86,4.44,3.96,3.59,3.01,3.38,3.11,3.7,4.23,3.8,3.49,3.96,4.76,4.33,3.91,4.12,4.44,4.76,4.01,4.86,4.33,3.8,4.01,4.54,4.92,5.55,5.92,5.76,6.24,5.92,5.5,4.86,4.44,4.86,4.65,4.97,5.34,4.86,4.86,4.54,4.65,4.44,3.8,2.96,3.49,3.7,3.22,3.7,4.12,3.8,4.44,4.65,5.18,5.39,5.66,5.76,6.13,6.56,6.98,7.3,7.14,7.51,7.83,8.15,7.93,7.72,7.93];
const gY = [.88,.26,-.13,-.39,-.71,-.9,-1.23,-.97,-1.1,-1.16,-.9,-.45,-.13,-.39,-.32,-.65,-1.03,-1.29,-1.42,-1.29,-1.42,-1.81,-1.94,-2.09,-2.2,-2.33,-2.58,-2.52,-2.45,-2.13,-2.45,-2.97,-2.84,-2.91,-3.29,-3.36,-3.94,-3.68,-3.75,-3.88,-3.94,-4.13,-4.39,-4.59,-4.91,-4.84,-5.23,-5.3,-5.56,-5.81,-5.94,-6.33,-6.14,-4.91,-4.52,-3.88,-3.49,-3.88,-3.23,-3.62,-2.84,-2.52,-2,-1.62,-1.55,-1.42,-.97,-1.03,-1.29,-1.62,-2.07,-2.33,-2.71,-3.23,-3.75,-4.78,-5.3,-5.68,-6.07,-6.52,-6.85,-7.36,-7.11,-6.72,-5.88,-6.59,-6.98,-7.24,-7.36,-7.56,-7.3,-7.04,-6.59,-6.4,-6.07,-5.88,-6.01,-6.33,-6.78,-7.17,-7.3,-7.75,-7.56,-7.11,-7.24,-7.49,-7.11,-7.21];
const hX = [6.9,7.17,7.05,7.35,7.65,8.13,8.37,8.73,9.1,8.61,8.01,8.07,8.86,8.86,8.25,7.53,7.05,6.81,6.2,6.33,5.6,5.12,4.58,5.36,5.6,5.12,5,4.76,4.16,4.28,3.8,3.49,3.19,2.95,2.35,2.71,3.19,2.71,2.23,2.11,1.51,1.27,1.99,1.75,2.47,2.95,3.07,2.47,2.23,2.95,2.35,2.95,3.31,3.67,3.19,3.43,4.28,3.8,4.04,4.64,5.24,5,5.96,6.2,5.6,5.84,5.36,4.76,4.28,3.43,2.95,2.29,2.59,1.99,2.23,3.19,3.73,3.8,4.4,5,4.76,4.52,4.28,4.88,5.24,4.76,4.52];
const hY = [9.34,8.78,8.58,8.71,8.65,9.18,8.98,8.78,8.38,8.12,8.25,7.99,7.99,7.52,7.59,7.99,8.52,8.85,8.58,8.32,7.72,7.85,7.33,7.46,6.8,7.19,6.47,6.27,6.13,6.4,7.19,7.59,8.12,8.65,9.05,8.78,8.25,7.72,7.06,7.26,7.46,7.85,8.58,7.99,7.59,8.38,8.98,9.44,9.77,9.97,10.5,10.5,9.31,9.9,10.37,10.9,10.96,11.29,11.82,12.62,12.88,13.28,12.88,13.08,13.54,13.94,14.34,14.6,14.07,13.94,14.47,15.2,14.73,14.14,14.73,14.47,14.2,14.6,15.13,15.99,15.39,14.6,13.94,13.67,14.07,13.48,13.74];
const iX = [5.7,5.86,6.55,5.97,6.09,5.63,5.12,5.4,4.72,4.26,3.81,4.61,5.4,5.97,6.09,6.77,7,6.77,7.46,8.08,7.57,6.89,7.46,7,8.03,7.23,6.89,6.43,6.09,5.75,4.83,5.06,5.52,5.97,5.18,4.72,4.15,3.47,4.04,4.26,3.81,3.12,3.69,2.9,2.33,2.78,2.21,1.64,1.53,.96,.62,.05,.56,.22,.96,1.19,.73,.33,.84,1.19,.44,.96,.96,1.53,2.21,2.67,3.35,4.15,4.61,4.72,3.92,3.47,3.69,2.78,3.24,3.92,4.38,4.72,4.26,4.83,5.4,6.09,6.55,7,6.43,6.2];
const iY = [-7.31,-6.6,-6.52,-6.38,-5.88,-5.6,-6.24,-5.74,-5.45,-4.88,-4.38,-5.17,-5.74,-5.45,-5.03,-5.31,-5.88,-6.17,-5.45,-6.17,-6.45,-6.88,-6.74,-7.31,-7.45,-7.88,-7.31,-7.59,-7.45,-8.24,-8.45,-8.02,-7.31,-7.02,-7.74,-7.45,-6.88,-6.17,-6.45,-7.02,-7.45,-8.17,-8.74,-9.16,-8.95,-9.52,-10.02,-10.38,-10.16,-9.59,-10.31,-10.95,-11.02,-11.52,-11.45,-12.02,-11.95,-12.66,-12.73,-13.3,-13.52,-14.02,-14.59,-14.23,-13.45,-13.37,-13.73,-13.52,-13.66,-14.3,-14.16,-13.87,-14.59,-14.66,-15.23,-14.94,-15.44,-14.87,-14.3,-14.73,-14.94,-14.8,-14.59,-14.8,-14.87,-14.8];
const loopPhases = [20,140,65,110,35,160,85,125,15,50,170,95,150,30,75,115,10,135,55,100,165,40,120,80,145,25,60,105,155];
const flatPhases = [8,37,66,94,123,152,12,44,72,101,130,160,174,22,51,138,30,58,88,116,145,170];

/* ---------- tick values ---------- */
const timeTicks = [0,500,1000,1500,2000];
const fluxTicks = [0,.5,1,1.5,2,2.5,3,3.5,4];
const perfTicks = [0,1,2,3,4];
const centerTicks = [-15,-10,-5,0,5,10,15];
const outputTicks = [0,.2,.4,.6,.8,1];
const fluctTicks = [-20,-15,-10,-5,0,5,10,15,20];
const gxTicks = [-2,0,2,4,6,8,10];
const gyTicks = [-10,-8,-6,-4,-2,0,2,4];
const hxTicks = [0,2.5,5,7.5,10,12.5];
const hyTicks = [4,6,8,10,12,14,16,18];
const ixTicks = [-2.5,0,2.5,5,7.5,10];
const iyTicks = [-16,-14,-12,-10,-8,-6,-4,-2];

/* ---------- style constants ---------- */
const tab10 = ['#1f77b4','#ff7f0e','#2ca02c','#d62728','#9467bd','#8c564b','#e377c2','#7f7f7f','#bcbd22','#17becf'];
const viridisStops = [[68,1,84],[72,40,120],[62,74,137],[49,104,142],[38,130,142],[31,158,137],[53,183,121],[109,205,89],[180,222,44],[253,231,37]];
const SVGNS = 'http://www.w3.org/2000/svg';
const root = document.getElementById('marks');

function make(parent, tag, attrs, name) {
  const el = document.createElementNS(SVGNS, tag);
  for (const k in attrs) el.setAttribute(k, attrs[k]);
  
  
  parent.appendChild(el);
  return el;
}
function scale(v0, p0, v1, p1) { const k = (p1 - p0) / (v1 - v0); return v => p0 + (v - v0) * k; }
function lookup(ts, vs, t) {
  if (t <= ts[0]) return vs[0];
  for (let i = 1; i < ts.length; i++) {
    if (t <= ts[i]) { const f = (t - ts[i-1]) / (ts[i] - ts[i-1]); return vs[i-1] + (vs[i] - vs[i-1]) * f; }
  }
  return vs[vs.length - 1];
}
function viridis(f) {
  const p = Math.max(0, Math.min(.9999, f)) * (viridisStops.length - 1), i = Math.floor(p), u = p - i;
  const a = viridisStops[i], b = viridisStops[i + 1];
  return 'rgb(' + [0,1,2].map(c => Math.round(a[c] + (b[c] - a[c]) * u)).join(',') + ')';
}
function fmt(v, d) { return v.toFixed(d).replace('-', '\u2212'); }
function pathOf(xs, ys, X, Y) {
  return xs.map((x, i) => (i ? 'L' : 'M') + X(x).toFixed(1) + ' ' + Y(ys[i]).toFixed(1)).join('');
}

const fluxTimes = fluxEvery10.map((_, i) => i * 10).concat(fluxTailTimes);
const fluxValues = fluxEvery10.concat(fluxTail);

const colX1 = scale(0, 99, 2000, 524), colX2 = scale(0, 707.4, 2000, 1132), colX3 = scale(0, 1315.5, 2000, 1741.7);
const panels = {
  a: {box:[78,545,69,477], x:colX1, y:scale(0,466.9,4,90.3), xt:timeTicks, xd:0, yt:fluxTicks, yd:1},
  b: {box:[686,1155,69,477], x:colX2, y:scale(-15,447.2,15,99.3), xt:timeTicks, xd:0, yt:centerTicks, yd:0},
  c: {box:[1294,1763,69,477], x:colX3, y:scale(-15,447.2,15,99.3), xt:timeTicks, xd:0, yt:centerTicks, yd:0},
  d: {box:[78,545,618,1027.6], x:colX1, y:scale(0,1008,1,638.3), xt:timeTicks, xd:0, yt:outputTicks, yd:1},
  e: {box:[686,1155,618,1027.6], x:colX2, y:scale(-20,1009,20,637.6), xt:timeTicks, xd:0, yt:fluctTicks, yd:0},
  f: {box:[1294,1763,618,1027.6], x:colX3, y:scale(-20,1021.7,20,637), xt:timeTicks, xd:0, yt:fluctTicks, yd:0},
  g: {box:[78,545,1169.5,1576], x:scale(-2,96.4,10,530), y:scale(-10,1570.6,4,1194.2), xt:gxTicks, xd:0, yt:gyTicks, yd:0},
  h: {box:[686,1155,1169.5,1576], x:scale(0,753.7,12.5,1143.8), y:scale(4,1538.3,18,1170.6), xt:hxTicks, xd:1, yt:hyTicks, yd:0},
  i: {box:[1294,1763,1169.5,1576], x:scale(-2.5,1295.9,10,1709.6), y:scale(-16,1534,-2,1193), xt:ixTicks, xd:1, yt:iyTicks, yd:0}
};

const defs = make(root, 'defs', {}, 'clip-definitions');
function openPanel(key) {
  const p = panels[key], b = p.box;
  const cp = make(defs, 'clipPath', {id:'clip-' + key}, 'clip-' + key);
  make(cp, 'rect', {x:b[0], y:b[2], width:b[1]-b[0], height:b[3]-b[2]}, 'clip-rect');
  const g = make(root, 'g', {}, 'panel-' + key);
  p.g = make(g, 'g', {'clip-path':'url(#clip-' + key + ')'}, 'plot-area-' + key);
  p.outer = g;
  return p;
}
function finishPanel(key) {
  const p = panels[key], b = p.box, g = p.outer;
  make(g, 'rect', {x:b[0], y:b[2], width:b[1]-b[0], height:b[3]-b[2], fill:'none', stroke:'#000', 'stroke-width':1.7}, 'axes-frame');
  p.xt.forEach(v => {
    const x = p.x(v);
    make(g, 'line', {x1:x, x2:x, y1:b[3], y2:b[3]+7, stroke:'#000', 'stroke-width':1.5}, 'x-tick');
    const t = make(g, 'text', {x:x, y:b[3]+28, 'text-anchor':'middle', 'font-size':18.6}, 'x-tick-label');
    t.textContent = fmt(v, p.xd);
  });
  p.yt.forEach(v => {
    const y = p.y(v);
    make(g, 'line', {x1:b[0]-7, x2:b[0], y1:y, y2:y, stroke:'#000', 'stroke-width':1.5}, 'y-tick');
    const t = make(g, 'text', {x:b[0]-14, y:y+6.8, 'text-anchor':'end', 'font-size':18.6}, 'y-tick-label');
    t.textContent = fmt(v, p.yd);
  });
}

/* Panel A */
(function () {
  const p = openPanel('a');
  const perfY = scale(0, 458.6, 4, 131.4);
  const bandTop = perfTimes.map((t, i) => p.x(t).toFixed(1) + ',' + perfY(perfHigh[i]).toFixed(1));
  const bandBottom = perfLowTimes.map((t, i) => p.x(t).toFixed(1) + ',' + perfY(perfLow[i]).toFixed(1)).reverse();
  const cut = fluxTimes.indexOf(1180);
  make(p.g, 'path', {d:pathOf(fluxTimes.slice(0, cut + 1), fluxValues.slice(0, cut + 1), p.x, p.y), fill:'none', stroke:'#ff4040', 'stroke-width':3.7, 'stroke-linejoin':'round'}, 'flux-line');
  make(p.g, 'path', {d:pathOf(fluxTimes.slice(cut), fluxValues.slice(cut), p.x, p.y), fill:'none', stroke:'#ff4040', 'stroke-width':8.5}, 'flux-settled-line');
  make(p.g, 'polygon', {points:bandTop.concat(bandBottom).join(' '), fill:'#bcbcfb', stroke:'#bcbcfb', 'stroke-width':1.5}, 'instant-performance-band');
  make(p.g, 'path', {d:pathOf(runAveTimes, runAve, p.x, perfY), fill:'none', stroke:'#6a6aff', 'stroke-width':3.6, 'stroke-linejoin':'round'}, 'running-average-line');
  finishPanel('a');
  const g = p.outer, b = p.box;
  perfTicks.forEach(v => {
    const y = perfY(v);
    make(g, 'line', {x1:b[1], x2:b[1]+7, y1:y, y2:y, stroke:'#000', 'stroke-width':1.5}, 'right-y-tick');
    const t = make(g, 'text', {x:b[1]+15, y:y+6.8, 'font-size':18.6}, 'right-y-tick-label');
    t.textContent = fmt(v, 0);
  });
})();

/* Panel B: thick wandering phase, then settled lines held to the end of the run */
(function () {
  const p = openPanel('b');
  weightCenters.forEach((row, i) => {
    make(p.g, 'path', {d:pathOf(centerTimes, row, p.x, p.y), fill:'none', stroke:tab10[i % 10], 'stroke-width':5, 'stroke-linejoin':'round'}, 'center-line-active');
    const last = row[row.length - 1];
    make(p.g, 'path', {d:pathOf([centerTimes[centerTimes.length - 1], 2000], [last, last], p.x, p.y), fill:'none', stroke:tab10[i % 10], 'stroke-width':3.8}, 'center-line-settled');
  });
  finishPanel('b');
})();

/* Panel C */
(function () {
  const p = openPanel('c');
  biasCenters.forEach((row, i) => {
    make(p.g, 'path', {d:pathOf(biasTimes, row, p.x, p.y), fill:'none', stroke:tab10[i], 'stroke-width':4, 'stroke-linejoin':'round'}, 'bias-center-line');
  });
  finishPanel('c');
})();

/* Panel D */
(function () {
  const p = openPanel('d');
  const layers = [];
  for (let k = 0; k < 10; k++) layers.push(make(p.g, 'g', {opacity:.5, fill:tab10[k]}, 'neural-output-o' + k));
  earlyTraces.forEach(r => {
    const x0 = p.x(r[1]), x1 = p.x(r[2]), y1 = p.y(r[3]), y0 = p.y(r[4]);
    make(layers[r[0]], 'rect', {x:x0, y:y0, width:x1-x0, height:y1-y0}, 'output-trace-span');
  });
  function band(k, low, high) {
    const up = lateTimes.map((t, i) => p.x(t).toFixed(1) + ',' + p.y(high[i]).toFixed(1));
    const dn = lateTimes.map((t, i) => p.x(t).toFixed(1) + ',' + p.y(low[i]).toFixed(1)).reverse();
    make(layers[k], 'polygon', {points:up.concat(dn).join(' ')}, 'output-late-band');
  }
  band(1, lateGreenHigh, lateOrangeHigh);
  band(2, lateFloor, lateGreenHigh);
  band(3, lateGreenHigh, lateRoseHigh);
  band(5, lateBrownLow, lateRoseHigh);
  band(6, lateGreenHigh, lateRoseHigh);
  band(7, lateTealHigh, lateGreenHigh);
  band(7, lateGreenHigh, lateCyanHigh);
  band(9, lateFloor, lateCyanHigh);
  finishPanel('d');
})();

/* Panels E, F: centres widened by the flux size of panel A */
function drawFluctBands(key, times, rows, holdTo, strokeW) {
  const p = openPanel(key);
  rows.forEach((row, i) => {
    const ts = holdTo ? times.concat([holdTo]) : times;
    const vs = holdTo ? row.concat([row[row.length - 1]]) : row;
    const up = fluxTimes.map((t, j) => p.x(t).toFixed(1) + ',' + p.y(lookup(ts, vs, t) + fluxValues[j]).toFixed(1));
    const dn = fluxTimes.map((t, j) => p.x(t).toFixed(1) + ',' + p.y(lookup(ts, vs, t) - fluxValues[j]).toFixed(1)).reverse();
    make(p.g, 'polygon', {points:up.concat(dn).join(' '), fill:tab10[i % 10], stroke:tab10[i % 10], 'stroke-width':strokeW, 'stroke-linejoin':'round'}, 'fluctuation-band');
  });
  finishPanel(key);
}
drawFluctBands('e', centerTimes, weightCenters, 2000, 3);
drawFluctBands('f', biasTimes, biasCenters, 0, 3.4);

/* Panels G, H, I */
function drawTrajectory(key, xs, ys) {
  const p = openPanel(key);
  const n = xs.length, timeOf = i => 120 + 1060 * i / (n - 1);
  const SEG = 56;
  function loop(x0, y0, x1, y1, t, phase, alpha) {
    const amp = lookup(fluxTimes, fluxValues, t), ph = phase * Math.PI / 180;
    let d = '';
    for (let k = 0; k <= SEG; k++) {
      const f = k / SEG, th = f * 2 * Math.PI;
      const X = p.x(x0 + (x1 - x0) * f + amp * Math.sin(th));
      const Y = p.y(y0 + (y1 - y0) * f + amp * Math.sin(th + ph));
      d += (k ? 'L' : 'M') + X.toFixed(1) + ' ' + Y.toFixed(1);
    }
    make(p.g, 'path', {d:d, fill:'none', stroke:viridis(t / 2000), 'stroke-opacity':alpha, 'stroke-width':1.2}, 'flux-orbit');
  }
  flatPhases.forEach(ph => loop(xs[0], ys[0], xs[0], ys[0], 60, ph, .18));
  const L = loopPhases.length;
  xs.forEach((x, i) => {
    const j = Math.min(i + 1, n - 1), progress = i / (n - 1);
    loop(x, ys[i], xs[j], ys[j], timeOf(i), loopPhases[i % L], .14);
    if (progress < .6) loop(xs[j], ys[j], x, ys[i], timeOf(i), loopPhases[(i * 7 + 11) % L], .14);
    if (progress < .35) loop(x, ys[i], xs[j], ys[j], timeOf(i), loopPhases[(i * 13 + 5) % L], .14);
  });
  make(p.g, 'circle', {cx:p.x(xs[0]), cy:p.y(ys[0]), r:10.5, fill:'#440154'}, 'start-marker');
  make(p.g, 'circle', {cx:p.x(xs[n-1]), cy:p.y(ys[n-1]), r:10, fill:'#fde725'}, 'stop-marker');
  for (let i = 0; i < n - 1; i++) {
    make(p.g, 'line', {x1:p.x(xs[i]), y1:p.y(ys[i]), x2:p.x(xs[i+1]), y2:p.y(ys[i+1]), stroke:viridis(timeOf(i) / 2000), 'stroke-width':4.4, 'stroke-linecap':'round'}, 'center-trajectory-segment');
  }
  finishPanel(key);
}
drawTrajectory('g', gX, gY);
drawTrajectory('h', hX, hY);
drawTrajectory('i', iX, iY);
</script>
</body>
</html>
